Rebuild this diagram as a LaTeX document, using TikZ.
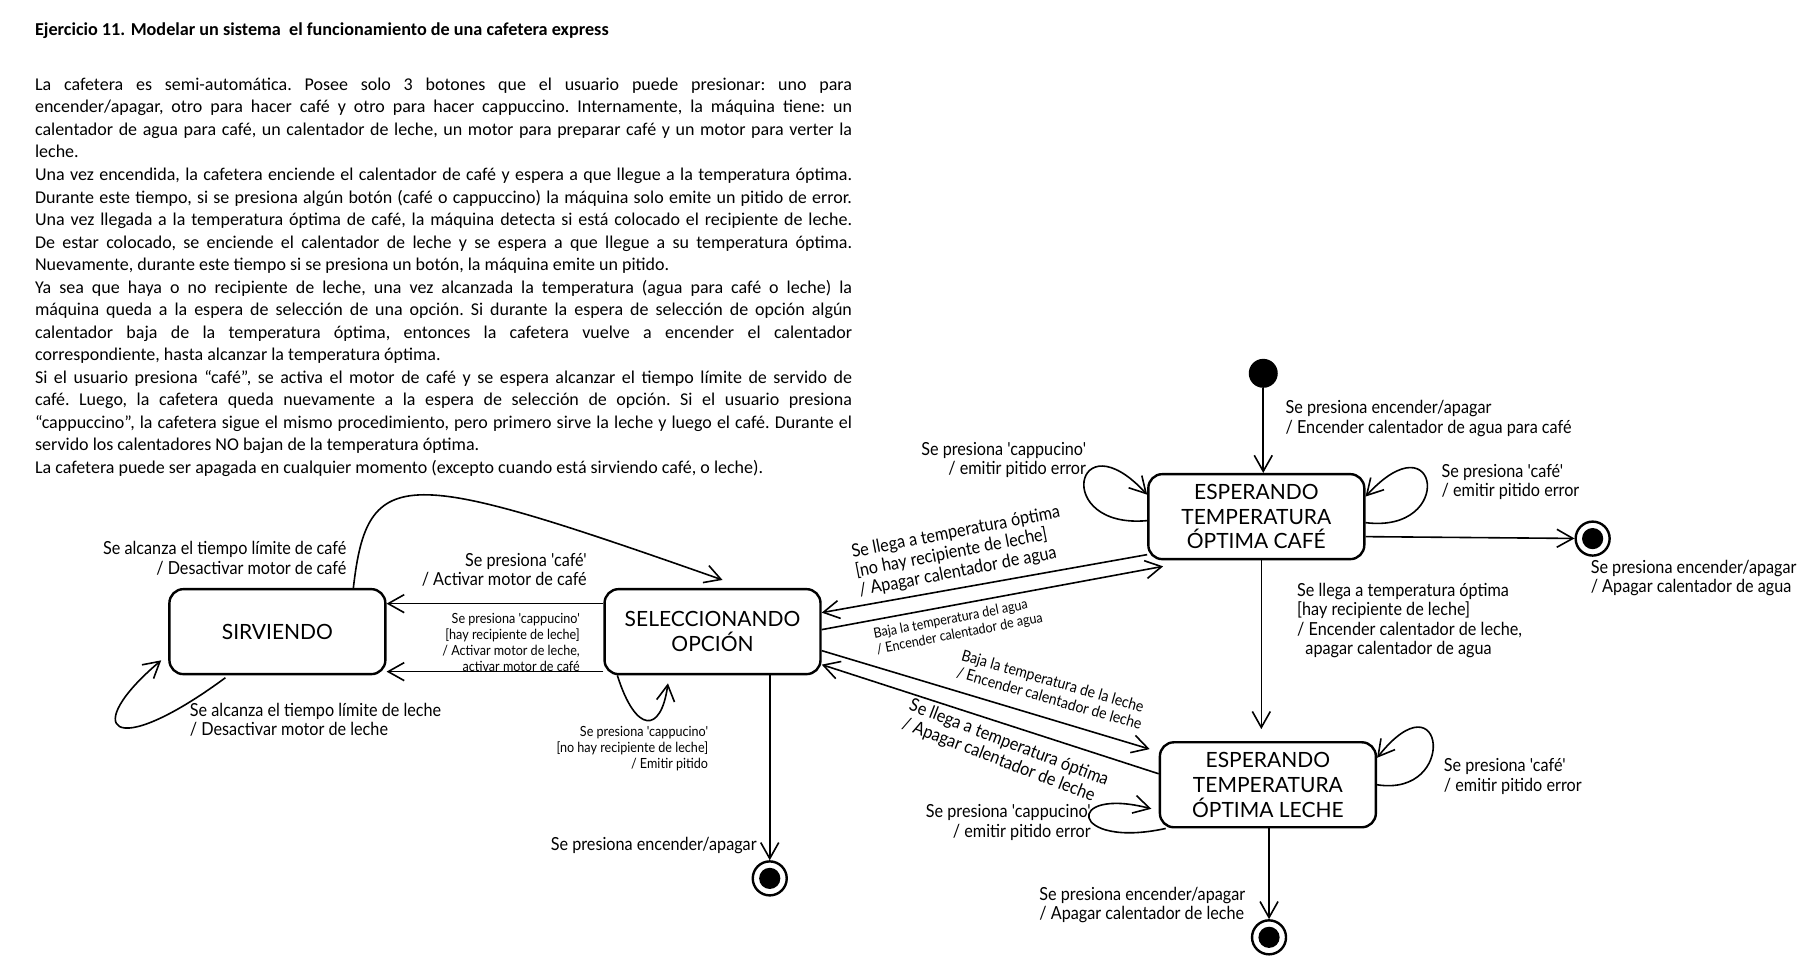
\documentclass[tikz,border=0pt]{standalone}
\usepackage{fontspec}
\setmainfont{Carlito}
\newfontfamily\estfont{Lato}
\newfontfamily\etqfont[FakeStretch=0.9,Ligatures=TeXOff]{Lato}
\usetikzlibrary{arrows.meta}

\begin{document}
\begin{tikzpicture}[x=0.578pt,y=-0.578pt,
    >={Straight Barb[length=8pt,width=9pt]},
    estado/.style={draw, very thick, rounded corners=7pt, minimum width=108pt, minimum height=42.5pt,
        inner sep=0pt, align=center, font=\estfont\fontsize{10.5}{12.4}\selectfont},
    etiqueta/.style={inner sep=0pt, font=\etqfont\fontsize{9}{9.8}\selectfont},
    chica/.style={inner sep=0pt, font=\etqfont\fontsize{7}{8}\selectfont},
    fin/.style={circle, draw, very thick, minimum size=17pt, inner sep=0pt,
        path picture={\fill (path picture bounding box.center) circle (5.3pt);}},
    inicio/.style={circle, fill, minimum size=14.5pt, inner sep=0pt}]
                \useasboundingbox (0,0) rectangle (1560,831);

                %% enunciado
                \node[anchor=base west, inner sep=0pt, font=\bfseries\fontsize{9.1}{11}\selectfont] (titulo) at (30,30.5)
                    {Ejercicio 11. Modelar un sistema \ el funcionamiento de una cafetera express};
                \node[anchor=north west, inner sep=0pt, text width=408.6pt, align=justify,
                      font=\fontsize{9}{11.27}\selectfont\frenchspacing] (enunciado) at (30,67) {%
                    La cafetera es semi-automática. Posee solo 3 botones que el usuario puede presionar: uno para\linebreak
                    encender/apagar, otro para hacer café y otro para hacer cappuccino. Internamente, la máquina tiene: un\linebreak
                    calentador de agua para café, un calentador de leche, un motor para preparar café y un motor para verter la\linebreak
                    leche.\\
                    Una vez encendida, la cafetera enciende el calentador de café y espera a que llegue a la temperatura óptima.\linebreak
                    Durante este tiempo, si se presiona algún botón (café o cappuccino) la máquina solo emite un pitido de error.\linebreak
                    Una vez llegada a la temperatura óptima de café, la máquina detecta si está colocado el recipiente de leche.\linebreak
                    De estar colocado, se enciende el calentador de leche y se espera a que llegue a su temperatura óptima.\linebreak
                    Nuevamente, durante este tiempo si se presiona un botón, la máquina emite un pitido.\\
                    Ya sea que haya o no recipiente de leche, una vez alcanzada la temperatura (agua para café o leche) la\linebreak
                    máquina queda a la espera de selección de una opción. Si durante la espera de selección de opción algún\linebreak
                    calentador baja de la temperatura óptima, entonces la cafetera vuelve a encender el calentador\linebreak
                    correspondiente, hasta alcanzar la temperatura óptima.\\
                    Si el usuario presiona “café”, se activa el motor de café y se espera alcanzar el tiempo límite de servido de\linebreak
                    café. Luego, la cafetera queda nuevamente a la espera de selección de opción. Si el usuario presiona\linebreak
                    “cappuccino”, la cafetera sigue el mismo procedimiento, pero primero sirve la leche y luego el café. Durante el\linebreak
                    servido los calentadores NO bajan de la temperatura óptima.\\
                    La cafetera puede ser apagada en cualquier momento (excepto cuando está sirviendo café, o leche).};

                %% estados
                \node[inicio] (ini) at (1093,323) {};
                \node[estado] (cafe) at (1087,447) {ESPERANDO\\TEMPERATURA\\ÓPTIMA CAFÉ};
                \node[estado] (leche) at (1097,679) {ESPERANDO\\TEMPERATURA\\ÓPTIMA LECHE};
                \node[estado] (selec) at (616.5,546.5) {SELECCIONANDO\\OPCIÓN};
                \node[estado] (sirv) at (240,546.5) {SIRVIENDO};
                \node[fin] (fcafe) at (1378,466) {};
                \node[fin] (fleche) at (1098,811) {};
                \node[fin] (fselec) at (666,760) {};

                %CAFE
                \draw[->, thick] (ini) -- (ini |- cafe.north);
                \node[etiqueta, anchor=north west, align=left] (e1) at (1112,346)
                    {Se presiona encender/apagar\\/ Encender calentador de agua para café};
                \draw[->, thick] ([yshift=-2pt]cafe.west) .. controls (910,458) and (930,360) .. ([yshift=11pt]cafe.west);
                \node[etiqueta, anchor=north east, align=right] (e2) at (940,382)
                    {Se presiona 'cappucino'\\/ emitir pitido error};
                \draw[->, thick] ([yshift=-3pt]cafe.east) .. controls (1260,462) and (1245,360) .. ([yshift=10pt]cafe.east);
                \node[etiqueta, anchor=north west, align=left] (e3) at (1247,401)
                    {Se presiona 'café'\\/ emitir pitido error};
                \draw[->, thick] ([yshift=-10pt]cafe.east) -- (fcafe);
                \node[etiqueta, anchor=north west, align=left] (e4) at (1376,484)
                    {Se presiona encender/apagar\\/ Apagar calentador de agua};
                \draw[->, thick] ([xshift=2.5pt]cafe.south) -- ([xshift=2.5pt, yshift=6pt]cafe.south |- leche.north);
                \node[etiqueta, anchor=north west, align=left] (e5) at (1122,504)
                    {Se llega a temperatura óptima\\{}[hay recipiente de leche]\\/ Encender calentador de leche,\\\ \ apagar calentador de agua};

                %LECHE
                \draw[->, thick] (leche.east) .. controls (1262,690) and (1250,582) .. ([yshift=13.5pt]leche.east);
                \node[etiqueta, anchor=north west, align=left] (e6) at (1249,656)
                    {Se presiona 'café'\\/ emitir pitido error};
                \draw[->, thick] ([xshift=3.5pt]leche.south west) .. controls (925,735) and (920,680) .. ([xshift=-3.7pt, yshift=-12pt]leche.west);
                \node[etiqueta, anchor=north east, align=right] (e7) at (944,696)
                    {Se presiona 'cappucino'\\/ emitir pitido error};
                \draw[->, thick] (fleche |- leche.south) -- (fleche);
                \node[etiqueta, anchor=north west, align=left] (e8) at (899,767)
                    {Se presiona encender/apagar\\/ Apagar calentador de leche};

                %SIRVIENDO
                \draw[->, thick] ([yshift=14pt]selec.west) -- ([yshift=14pt]sirv.east);
                \node[etiqueta, anchor=north east, align=right] (e9) at (508,478)
                    {Se presiona 'café'\\/ Activar motor de café};
                \draw[->, thick] ([yshift=-20pt]selec.west) -- ([yshift=-20pt]sirv.east);
                \node[chica, anchor=north east, align=right] (e10) at (502,530)
                    {Se presiona 'cappucino'\\{}[hay recipiente de leche]\\/ Activar motor de leche,\\activar motor de café};
                \draw[->, thick] ([xshift=38pt]sirv.north) .. controls (318,400) and (350,405) .. ([xshift=5pt, yshift=4pt]selec.north);
                \node[etiqueta, anchor=north east, align=right] (e11) at (300,468)
                    {Se alcanza el tiempo límite de café\\/ Desactivar motor de café};
                \draw[->, thick] ([xshift=-26pt, yshift=-1.2pt]sirv.south) .. controls (95,660) and (70,630) .. ([xshift=-3.5pt, yshift=7.5pt]sirv.south west);
                \node[etiqueta, anchor=north west, align=left] (e12) at (164,608)
                    {Se alcanza el tiempo límite de leche\\/ Desactivar motor de leche};

                %SELECCIONANDO
                \draw[->, thick] ([xshift=7pt]selec.south west) .. controls (550,635) and (572,635) .. ([xshift=-22.3pt, yshift=-4pt]selec.south);
                \node[chica, anchor=north east, align=right] (e13) at (613,628)
                    {Se presiona 'cappucino'\\{}[no hay recipiente de leche]\\/ Emitir pitido};
                \draw[->, thick] (fselec |- selec.south) -- (fselec);
                \node[etiqueta, anchor=north east] (e14) at (655,724) {Se presiona encender/apagar};

                %% transiciones diagonales
                \draw[->, thick] ([yshift=-19pt]cafe.west) -- ([yshift=9.5pt]selec.east);
                \node[etiqueta, rotate=11, anchor=west, align=left] (e15) at (740,495)
                    {Se llega a temperatura óptima\\{}[no hay recipiente de leche]\\/ Apagar calentador de agua};
                \draw[->, thick] ([yshift=1pt]selec.east) -- ([xshift=8pt, yshift=-3pt]cafe.south west);
                \node[inner sep=0pt, font=\etqfont\fontsize{7}{8}\selectfont, rotate=11, anchor=west, align=left] (e16) at (757,556)
                    {Baja la temperatura del agua\\/ Encender calentador de agua};
                \draw[->, thick] ([yshift=-9.5pt]selec.east) -- ([xshift=-4.5pt, yshift=-4pt]leche.north west);
                \node[inner sep=0pt, font=\etqfont\fontsize{7.8}{8.8}\selectfont, rotate=-16, anchor=west, align=left] (e17) at (830,574)
                    {Baja la temperatura de la leche\\/ Encender calentador de leche};
                \draw[->, thick] ([yshift=5.5pt]leche.west) -- ([yshift=-16.5pt]selec.east);
                \node[etiqueta, rotate=-21, anchor=west, align=left] (e18) at (784,618)
                    {Se llega a temperatura óptima\\/ Apagar calentador de leche};

            \end{tikzpicture}
\end{document}
